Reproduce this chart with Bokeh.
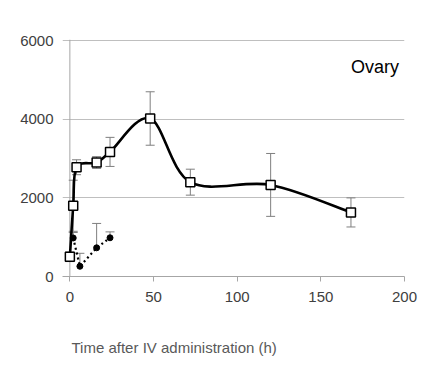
from bokeh.plotting import figure
from bokeh.models import Range1d, ColumnDataSource, Whisker, TeeHead, Label, FixedTicker, Span, Title
from bokeh.embed import file_html
from bokeh.resources import INLINE

# Data (time in h, concentration)
sq_x = [0, 2, 4, 16, 24, 48, 72, 120, 168]
sq_y = [500, 1800, 2780, 2900, 3170, 4020, 2400, 2330, 1630]
sq_err = [120, 650, 190, 150, 370, 680, 330, 800, 370]

dot_x = [2, 6, 16, 24]
dot_y = [980, 260, 730, 985]
dot_err_up = [140, 330, 620, 150]

x_ticks = [0, 50, 100, 150, 200]
y_ticks = [0, 2000, 4000, 6000]
x_title = "Time after IV administration (h)"
panel_label = "Ovary"

FONT = "Liberation Sans"

p = figure(width=447, height=377, output_backend="svg", toolbar_location=None,
           x_range=Range1d(-4.4, 200), y_range=Range1d(0, 6030),
           min_border_left=62, min_border_right=43, min_border_top=39, min_border_bottom=101)
p.outline_line_color = None
p.background_fill_color = "white"
p.border_fill_color = "white"

# axes
p.xaxis.ticker = FixedTicker(ticks=x_ticks)
p.yaxis.ticker = FixedTicker(ticks=y_ticks)
for ax in (p.xaxis, p.yaxis):
    ax.axis_line_color = "#a6a6a6"
    ax.axis_line_width = 1
    ax.major_tick_line_color = "#a6a6a6"
    ax.minor_tick_line_color = None
    ax.major_tick_in = 0
    ax.major_label_text_font = FONT
    ax.major_label_text_font_size = "15px"
    ax.major_label_text_color = "#404040"
p.xaxis.major_tick_out = 5
p.xaxis.major_label_standoff = 10
p.xaxis.axis_label = " "
p.xaxis.axis_label_standoff = 12
p.xaxis.axis_label_text_font = FONT
p.xaxis.axis_label_text_font_size = "15px"
p.yaxis.axis_line_color = None
p.yaxis.major_tick_out = 0
p.yaxis.major_label_standoff = 9

p.xgrid.grid_line_color = None
p.ygrid.grid_line_color = "#bfbfbf"
p.ygrid.grid_line_width = 1

# vertical axis line at x = 0
p.add_layout(Span(location=0, dimension="height", line_color="#a6a6a6", line_width=1, level="underlay"))

# Smooth (Catmull-Rom style) curve through square series
n = len(sq_x)
x0, y0, x1, y1, cx0, cy0, cx1, cy1 = [], [], [], [], [], [], [], []
for i in range(n - 1):
    pm = i - 1 if i > 0 else i
    pp = i + 2 if i + 2 < n else i + 1
    x0.append(sq_x[i]); y0.append(sq_y[i])
    x1.append(sq_x[i + 1]); y1.append(sq_y[i + 1])
    cx0.append(sq_x[i] + (sq_x[i + 1] - sq_x[pm]) / 6)
    cy0.append(sq_y[i] + (sq_y[i + 1] - sq_y[pm]) / 6)
    cx1.append(sq_x[i + 1] - (sq_x[pp] - sq_x[i]) / 6)
    cy1.append(sq_y[i + 1] - (sq_y[pp] - sq_y[i]) / 6)
p.bezier(x0=x0, y0=y0, x1=x1, y1=y1, cx0=cx0, cy0=cy0, cx1=cx1, cy1=cy1,
         line_color="black", line_width=2.6)

# dotted series line
p.line(dot_x, dot_y, line_color="black", line_width=2.2, line_dash="2 3")

# error bars
sq_src = ColumnDataSource(dict(x=sq_x, y=sq_y,
                               lo=[a - b for a, b in zip(sq_y, sq_err)],
                               hi=[a + b for a, b in zip(sq_y, sq_err)]))
w1 = Whisker(base="x", lower="lo", upper="hi", source=sq_src, line_color="#7f7f7f", line_width=1,
             upper_head=TeeHead(size=9, line_color="#7f7f7f", line_width=1),
             lower_head=TeeHead(size=9, line_color="#7f7f7f", line_width=1))
p.add_layout(w1)

dot_src = ColumnDataSource(dict(x=dot_x, y=dot_y,
                                hi=[a + b for a, b in zip(dot_y, dot_err_up)]))
w2 = Whisker(base="x", lower="y", upper="hi", source=dot_src, line_color="#7f7f7f", line_width=1,
             upper_head=TeeHead(size=9, line_color="#7f7f7f", line_width=1),
             lower_head=None)
p.add_layout(w2)

# markers
p.scatter(dot_x, dot_y, marker="circle", size=6, fill_color="black", line_color="black")
p.scatter(sq_x, sq_y, marker="square", size=9, fill_color="white", line_color="black", line_width=1.5)

# labels
p.add_layout(Label(x=168, y=5318, text=panel_label, text_font=FONT, text_font_size="18px",
                   text_color="black", text_baseline="middle", text_align="left"))
p.add_layout(Title(text=x_title, align="left", offset=9, standoff=0, text_font=FONT,
                   text_font_size="15px", text_font_style="normal", text_color="#595959"), "below")

open("out.html", "w").write(file_html(p, INLINE))
